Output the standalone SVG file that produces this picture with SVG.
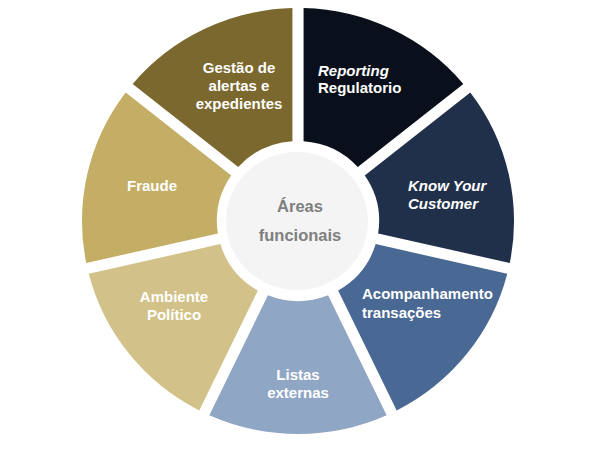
<svg xmlns="http://www.w3.org/2000/svg" xmlns:xlink="http://www.w3.org/1999/xlink" width="600" height="450" viewBox="0 0 600 450">
<style>
.lbl{font-family:"Liberation Sans",Arial,sans-serif;font-weight:bold;font-size:15px;fill:#FFFFFF}
.it{font-style:italic}
.mid{text-anchor:middle}
.ctr{font-family:"Liberation Sans",Arial,sans-serif;font-weight:bold;font-size:16.5px;fill:#7F7F7F;text-anchor:middle}
</style>
<defs>
<path id="seg" d="M 5.50 -212.93 A 213 213 0 0 1 163.05 -137.06 L 58.97 -54.06 A 80 80 0 0 0 5.50 -79.81 Z"/>
</defs>
<rect width="600" height="450" fill="#FFFFFF"/>
<g id="connectors"/>
<g id="reporting">
<use xlink:href="#seg" href="#seg" fill="#0A101B" transform="translate(298,221) scale(1.014,1) rotate(0)"/>
<text class="lbl" x="318" y="76"><tspan class="it">Reporting</tspan><tspan x="318" y="93">Regulatorio</tspan></text>
</g>
<g id="kyc">
<use xlink:href="#seg" href="#seg" fill="#21304A" transform="translate(298,221) scale(1.014,1) rotate(51.4286)"/>
<text class="lbl it" x="408" y="191">Know Your<tspan x="408" y="209">Customer</tspan></text>
</g>
<g id="acompanhamento">
<use xlink:href="#seg" href="#seg" fill="#4A6894" transform="translate(298,221) scale(1.014,1) rotate(102.8571)"/>
<text class="lbl" x="362" y="299">Acompanhamento<tspan x="362" y="318">transações</tspan></text>
</g>
<g id="listas">
<use xlink:href="#seg" href="#seg" fill="#8FA6C4" transform="translate(298,221) scale(1.014,1) rotate(154.2857)"/>
<text class="lbl mid" x="298" y="380">Listas<tspan x="298" y="398">externas</tspan></text>
</g>
<g id="ambiente">
<use xlink:href="#seg" href="#seg" fill="#D2C289" transform="translate(298,221) scale(1.014,1) rotate(205.7143)"/>
<text class="lbl mid" x="174" y="302">Ambiente<tspan x="174" y="320">Político</tspan></text>
</g>
<g id="fraude">
<use xlink:href="#seg" href="#seg" fill="#C4AE66" transform="translate(298,221) scale(1.014,1) rotate(257.1429)"/>
<text class="lbl mid" x="152" y="191">Fraude</text>
</g>
<g id="gestao">
<use xlink:href="#seg" href="#seg" fill="#7B682E" transform="translate(298,221) scale(1.014,1) rotate(308.5714)"/>
<text class="lbl mid" x="239" y="73">Gestão de<tspan x="239" y="91">alertas e</tspan><tspan x="239" y="109">expedientes</tspan></text>
</g>
<g id="centro">
<ellipse cx="297" cy="221" rx="71" ry="69" fill="#F4F4F4"/>
<text class="ctr" x="300" y="212">Áreas</text>
<text class="ctr" x="300" y="241">funcionais</text>
</g>
</svg>
